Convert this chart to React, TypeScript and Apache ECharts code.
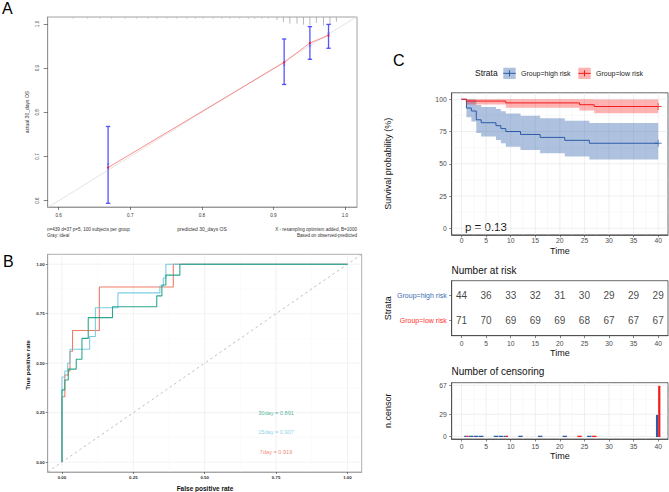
import React, { useEffect, useRef } from "react";
import * as echarts from "echarts";

const FONT = "'Liberation Sans', Arial, Helvetica, sans-serif";

// ---------- Panel A: calibration ----------
const calTicks = [0.6, 0.7, 0.8, 0.9, 1.0];
const calPredicted = [0.669, 0.915, 0.951, 0.977];
const calObserved = [0.675, 0.913, 0.957, 0.974];
const calCorrected = [0.683, 0.907, 0.951, 0.979];
const calLower = [0.594, 0.863, 0.92, 0.945];
const calUpper = [0.768, 0.966, 0.994, 0.999];
const idealLine = [0.5846, 1.0158];
const rugPredicted = [0.62, 0.64, 0.658, 0.674, 0.693, 0.709, 0.725, 0.737, 0.751, 0.765, 0.779, 0.791, 0.802, 0.816, 0.828, 0.839, 0.853, 0.865, 0.874, 0.884, 0.893, 0.905, 0.914, 0.923, 0.933, 0.942, 0.951, 0.96, 0.97, 0.979, 0.988];
const rugCounts = [1, 1, 1, 1, 1, 1, 1, 1, 1, 1, 1, 1, 1, 1, 1, 1, 1, 1, 1, 1, 1, 2, 4, 6, 6, 7, 8, 5, 8, 7, 4];

// ---------- Panel B: ROC ----------
const rocTicks = [0, 0.25, 0.5, 0.75, 1];
const rocMinor = [0.125, 0.375, 0.625, 0.875];
const fpr30 = [0, 0, 0.01, 0.022, 0.05, 0.07, 0.092, 0.177, 0.332, 0.35, 0.364, 0.413, 1];
const tpr30 = [0, 0.365, 0.415, 0.47, 0.52, 0.625, 0.73, 0.785, 0.84, 0.895, 0.945, 1, 1];
const fpr15 = [0, 0, 0.01, 0.02, 0.028, 0.097, 0.117, 0.196, 0.343, 0.355, 0.364, 1];
const tpr15 = [0, 0.43, 0.46, 0.5, 0.57, 0.635, 0.78, 0.855, 0.89, 0.93, 1, 1];
const fpr7 = [0, 0, 0.01, 0.022, 0.028, 0.037, 0.131, 0.39, 1];
const tpr7 = [0, 0.33, 0.44, 0.46, 0.56, 0.665, 0.885, 1, 1];
const aucLabels = ["30day = 0.891", "15day = 0.907", "7day = 0.919"];
const aucLabelX = [0.75, 0.75, 0.75];
const aucLabelY = [0.25, 0.15, 0.05];

// ---------- Panel C: Kaplan-Meier ----------
const timeBreaks = [0, 5, 10, 15, 20, 25, 30, 35, 40];
const timeMinor = [2.5, 7.5, 12.5, 17.5, 22.5, 27.5, 32.5, 37.5];
const survBreaks = [0, 25, 50, 75, 100];
const survMinor = [12.5, 37.5, 62.5, 87.5];
const kmTimesHigh = [0, 1, 2, 3, 4, 7, 8, 9, 12, 16, 21, 26, 40];
const kmSurvHigh = [100, 93.18, 90.91, 84.09, 81.82, 79.55, 77.27, 75.0, 72.73, 70.45, 68.18, 65.91, 65.91];
const kmLowerHigh = [100, 86.03, 82.8, 73.95, 71.18, 68.47, 65.83, 63.24, 60.69, 58.18, 55.72, 53.29, 53.29];
const kmUpperHigh = [100, 100, 99.81, 95.63, 94.05, 92.41, 90.7, 88.95, 87.16, 85.31, 83.43, 81.52, 81.52];
const kmTimesLow = [0, 1, 9, 24, 27, 40];
const kmSurvLow = [100, 98.59, 97.18, 95.77, 94.37, 94.37];
const kmLowerLow = [100, 95.89, 93.41, 91.21, 89.15, 89.15];
const kmUpperLow = [100, 100, 100, 100, 99.87, 99.87];
const censorMarkTime = 40;

// ---------- Risk table ----------
const riskTimes = [0, 5, 10, 15, 20, 25, 30, 35, 40];
const riskHigh = [44, 36, 33, 32, 31, 30, 29, 29, 29];
const riskLow = [71, 70, 69, 69, 69, 68, 67, 67, 67];
const strataNames = ["Group=high risk", "Group=low risk"];

// ---------- Censoring ----------
const censorHighTimes = [1, 2, 3, 4, 7, 8, 9, 12, 16, 21, 26, 40];
const censorHighCounts = [0, 0, 0, 0, 0, 0, 0, 0, 0, 0, 0, 29];
const censorLowTimes = [1, 9, 24, 27, 40];
const censorLowCounts = [0, 0, 0, 0, 67];
const censorBreaks = [0, 29, 67];
const censorMinor = [14.5, 48];

const BLUE = "#2B5CA8";
const RED = "#F21B1B";
const BLUE_BAND = "rgba(43,92,168,0.38)";
const RED_BAND = "rgba(255,0,0,0.3)";
const C30 = "#1FA287";
const C15 = "#6CC6DD";
const C7 = "#EE6D55";

function axis(gridIndex: number, min: number, max: number, ticks: number[], o: any) {
  return {
    type: "value",
    gridIndex,
    min,
    max,
    axisLine: { show: true, onZero: false, lineStyle: { color: o.lineColor || "#333", width: o.lineWidth || 0.8 } },
    axisTick: { show: true, customValues: ticks, length: o.tickLen || 2.5, lineStyle: { color: o.tickColor || "#333", width: 0.6 } },
    axisLabel: {
      show: true,
      customValues: ticks,
      formatter: o.fmt,
      fontSize: o.fontSize,
      color: o.labelColor || "#4D4D4D",
      fontFamily: FONT,
      fontWeight: o.bold ? "bold" : "normal",
      margin: o.margin,
      rotate: o.rotate || 0,
      rich: o.rich,
    },
    splitLine: { show: false },
  };
}

function gridLineSeries(idx: number, values: number[], dir: string, color: string, width: number) {
  return {
    type: "custom",
    xAxisIndex: idx,
    yAxisIndex: idx,
    silent: true,
    z: 1,
    data: values.map((v) => [v, v]),
    renderItem: (params: any, api: any) => {
      const cs = params.coordSys;
      const p = api.coord([api.value(0), api.value(1)]);
      const shape =
        dir === "v"
          ? { x1: p[0], y1: cs.y, x2: p[0], y2: cs.y + cs.height }
          : { x1: cs.x, y1: p[1], x2: cs.x + cs.width, y2: p[1] };
      return { type: "line", shape, style: { stroke: color, lineWidth: width } };
    },
  };
}

function bandSeries(idx: number, times: number[], lower: number[], upper: number[], color: string) {
  return {
    type: "custom",
    xAxisIndex: idx,
    yAxisIndex: idx,
    silent: true,
    z: 2,
    data: [[times[0], upper[0]]],
    renderItem: (params: any, api: any) => {
      const top: number[][] = [];
      const bot: number[][] = [];
      for (let i = 0; i < times.length - 1; i++) {
        top.push(api.coord([times[i], upper[i]]));
        top.push(api.coord([times[i + 1], upper[i]]));
        bot.push(api.coord([times[i], lower[i]]));
        bot.push(api.coord([times[i + 1], lower[i]]));
      }
      const points = top.concat(bot.reverse());
      return { type: "polygon", shape: { points }, style: { fill: color } };
    },
  };
}

function kmLine(idx: number, times: number[], surv: number[], color: string) {
  return {
    type: "line",
    xAxisIndex: idx,
    yAxisIndex: idx,
    step: "end",
    symbol: "none",
    z: 3,
    data: times.map((t, i) => [t, surv[i]]),
    lineStyle: { color, width: 1 },
  };
}

const PLUS = "path://M0,4.4L10,4.4L10,5.6L0,5.6Z M4.4,0L5.6,0L5.6,10L4.4,10Z";

function censorBars(idx: number) {
  const items: number[][] = [];
  censorHighTimes.forEach((t, i) => items.push([t, censorHighCounts[i], 0, censorLowTimes.indexOf(t) >= 0 ? 1 : 0]));
  censorLowTimes.forEach((t, i) => items.push([t, censorLowCounts[i], 1, censorHighTimes.indexOf(t) >= 0 ? 1 : 0]));
  return {
    type: "custom",
    xAxisIndex: idx,
    yAxisIndex: idx,
    silent: true,
    z: 3,
    data: items,
    renderItem: (params: any, api: any) => {
      const t = api.value(0);
      const n = api.value(1);
      const g = api.value(2);
      const dodge = api.value(3);
      let x0 = t - 0.45;
      let x1 = t + 0.45;
      if (dodge) {
        if (g === 0) x1 = t;
        else x0 = t;
      }
      const a = api.coord([x0, n]);
      const b = api.coord([x1, 0]);
      const h = Math.max(1.3, b[1] - a[1]);
      return {
        type: "rect",
        shape: { x: a[0], y: b[1] - h + 0.6, width: b[0] - a[0], height: h },
        style: { fill: g === 0 ? BLUE : RED },
      };
    },
  };
}

function txt(text: string, x: number, y: number, o: any = {}) {
  return {
    type: "text",
    x,
    y,
    rotation: o.rotation || 0,
    silent: true,
    style: {
      text,
      fill: o.fill || "#222",
      fontSize: o.fontSize || 8,
      fontFamily: FONT,
      fontWeight: o.bold ? "bold" : "normal",
      align: o.align || "left",
      verticalAlign: o.va || "middle",
    },
  };
}

function legendKey(x: number, y: number, band: string, color: string) {
  return {
    type: "group",
    silent: true,
    children: [
      { type: "rect", shape: { x, y, width: 12.4, height: 11.3 }, style: { fill: band } },
      { type: "line", shape: { x1: x, y1: y + 5.65, x2: x + 12.4, y2: y + 5.65 }, style: { stroke: color, lineWidth: 1 } },
      { type: "line", shape: { x1: x + 6.2, y1: y + 2.6, x2: x + 6.2, y2: y + 8.7 }, style: { stroke: color, lineWidth: 1 } },
    ],
  };
}

function buildOption(): any {
  const grids = [
    { left: 47.7, top: 17, width: 309.3, height: 190, borderColor: "#8a8a8a" },
    { left: 47.7, top: 254.3, width: 314, height: 217.7, borderColor: "#9a9a9a" },
    { left: 451.7, top: 92.8, width: 216.3, height: 142, borderColor: "#444" },
    { left: 451.7, top: 280.7, width: 216.3, height: 55, borderColor: "#444" },
    { left: 451.7, top: 382.7, width: 216.3, height: 56.3, borderColor: "#444" },
  ].map((g) => ({ ...g, show: true, borderWidth: 0.8, backgroundColor: "transparent", containLabel: false, outerBoundsMode: "none" }));

  const fmt1 = (v: number) => v.toFixed(1);
  const fmt2 = (v: number) => v.toFixed(2);
  const fmt0 = (v: number) => String(v);

  const xAxis = [
    axis(0, 0.5846, 1.0168, calTicks, { fmt: fmt1, fontSize: 4.6, margin: 6, tickLen: 3, labelColor: "#333", lineColor: "#8a8a8a" }),
    axis(1, -0.05, 1.05, rocTicks, { fmt: fmt2, fontSize: 4.4, bold: true, margin: 3, tickLen: 2, labelColor: "#333", lineColor: "#9a9a9a" }),
    axis(2, -2, 42, timeBreaks, { fmt: fmt0, fontSize: 6.8, margin: 2.5, tickLen: 2.5, lineColor: "#444" }),
    axis(3, -2, 42, timeBreaks, { fmt: fmt0, fontSize: 6.8, margin: 4.5, tickLen: 2.5, lineColor: "#444" }),
    axis(4, -2, 42, timeBreaks, { fmt: fmt0, fontSize: 6.8, margin: 3.5, tickLen: 2.5, lineColor: "#444" }),
  ];
  const yAxis = [
    axis(0, 0.5857, 1.0158, calTicks, { fmt: fmt1, fontSize: 4.6, margin: 8, tickLen: 4, rotate: 90, labelColor: "#333", lineColor: "#8a8a8a" }),
    axis(1, -0.05, 1.05, rocTicks, { fmt: fmt2, fontSize: 4.4, bold: true, margin: 3, tickLen: 2, labelColor: "#333", lineColor: "#9a9a9a" }),
    axis(2, -5, 105, survBreaks, { fmt: fmt0, fontSize: 6.8, margin: 5, tickLen: 2.5, lineColor: "#444" }),
    axis(3, 0.4, 2.6, [1, 2], {
      fmt: (v: number) => (v === 2 ? "{h|" + strataNames[0] + "}" : "{l|" + strataNames[1] + "}"),
      fontSize: 7,
      margin: 5,
      tickLen: 2.5,
      lineColor: "#444",
      rich: {
        h: { color: "#3A6CB4", fontSize: 7, fontFamily: FONT },
        l: { color: "#FF3030", fontSize: 7, fontFamily: FONT },
      },
    }),
    axis(4, -3.35, 70.35, censorBreaks, { fmt: fmt0, fontSize: 6.8, margin: 5, tickLen: 2.5, lineColor: "#444" }),
  ];

  const series: any[] = [
    // Panel A
    {
      type: "line",
      xAxisIndex: 0,
      yAxisIndex: 0,
      symbol: "none",
      data: [[idealLine[0], idealLine[0]], [idealLine[1], idealLine[1]]],
      lineStyle: { color: "#DCDCDC", width: 0.8 },
      z: 2,
    },
    {
      type: "custom",
      xAxisIndex: 0,
      yAxisIndex: 0,
      silent: true,
      z: 2,
      data: rugPredicted.map((p, i) => [p, rugCounts[i]]),
      renderItem: (params: any, api: any) => {
        const cs = params.coordSys;
        const x = api.coord([api.value(0), 1])[0];
        const n = api.value(1);
        return {
          type: "line",
          shape: { x1: x, y1: cs.y, x2: x, y2: cs.y + 1 + n * 0.95 },
          style: { stroke: n > 1 ? "#9a9a9a" : "#bdbdbd", lineWidth: 0.7 },
        };
      },
    },
    {
      type: "custom",
      xAxisIndex: 0,
      yAxisIndex: 0,
      silent: true,
      z: 3,
      data: calPredicted.map((p, i) => [p, calLower[i], calUpper[i]]),
      renderItem: (params: any, api: any) => {
        const lo = api.coord([api.value(0), api.value(1)]);
        const hi = api.coord([api.value(0), api.value(2)]);
        const st = { stroke: "rgba(55,55,255,0.85)", lineWidth: 1.3 };
        return {
          type: "group",
          children: [
            { type: "line", shape: { x1: lo[0], y1: lo[1], x2: hi[0], y2: hi[1] }, style: st },
            { type: "line", shape: { x1: lo[0] - 2.2, y1: lo[1], x2: lo[0] + 2.2, y2: lo[1] }, style: st },
            { type: "line", shape: { x1: hi[0] - 2.2, y1: hi[1], x2: hi[0] + 2.2, y2: hi[1] }, style: st },
          ],
        };
      },
    },
    {
      type: "line",
      xAxisIndex: 0,
      yAxisIndex: 0,
      symbol: "none",
      z: 4,
      data: calPredicted.map((p, i) => [p, calObserved[i]]),
      lineStyle: { color: "#FF6F6F", width: 0.8 },
    },
    {
      type: "scatter",
      xAxisIndex: 0,
      yAxisIndex: 0,
      symbol: "rect",
      symbolSize: 2,
      z: 5,
      data: calPredicted.map((p, i) => [p, calCorrected[i]]),
      itemStyle: { color: "rgba(90,90,255,0.75)" },
    },
    {
      type: "scatter",
      xAxisIndex: 0,
      yAxisIndex: 0,
      symbolSize: 2.4,
      z: 6,
      data: calPredicted.map((p, i) => [p, calObserved[i]]),
      itemStyle: { color: "#E0103A" },
    },

    // Panel B
    gridLineSeries(1, rocMinor, "v", "#F4F4F4", 0.4),
    gridLineSeries(1, rocMinor, "h", "#F4F4F4", 0.4),
    gridLineSeries(1, rocTicks, "v", "#EAEAEA", 0.6),
    gridLineSeries(1, rocTicks, "h", "#EAEAEA", 0.6),
    {
      type: "line",
      xAxisIndex: 1,
      yAxisIndex: 1,
      symbol: "none",
      z: 2,
      data: [[-0.05, -0.05], [1.05, 1.05]],
      lineStyle: { color: "#AFAFAF", width: 0.8, type: [2.5, 3] },
    },
    {
      type: "line", xAxisIndex: 1, yAxisIndex: 1, step: "end", symbol: "none", z: 3,
      data: fpr7.map((x, i) => [x, tpr7[i]]), lineStyle: { color: C7, width: 1.1, opacity: 0.9 },
    },
    {
      type: "line", xAxisIndex: 1, yAxisIndex: 1, step: "end", symbol: "none", z: 3,
      data: fpr15.map((x, i) => [x, tpr15[i]]), lineStyle: { color: C15, width: 1.1, opacity: 0.9 },
    },
    {
      type: "line", xAxisIndex: 1, yAxisIndex: 1, step: "end", symbol: "none", z: 3,
      data: fpr30.map((x, i) => [x, tpr30[i]]), lineStyle: { color: C30, width: 1.1, opacity: 0.95 },
    },
    {
      type: "scatter",
      xAxisIndex: 1,
      yAxisIndex: 1,
      symbolSize: 0,
      z: 4,
      data: aucLabels.map((s, i) => ({
        value: [aucLabelX[i], aucLabelY[i]],
        label: { color: [C30, C15, C7][i] },
      })),
      label: {
        show: true,
        position: "inside",
        fontSize: 5.6,
        fontFamily: FONT,
        formatter: (p: any) => aucLabels[p.dataIndex],
      },
    },

    // Panel C: KM
    gridLineSeries(2, timeMinor, "v", "#F2F2F2", 0.45),
    gridLineSeries(2, survMinor, "h", "#F2F2F2", 0.45),
    gridLineSeries(2, timeBreaks, "v", "#E6E6E6", 0.65),
    gridLineSeries(2, survBreaks, "h", "#E6E6E6", 0.65),
    bandSeries(2, kmTimesHigh, kmLowerHigh, kmUpperHigh, BLUE_BAND),
    bandSeries(2, kmTimesLow, kmLowerLow, kmUpperLow, RED_BAND),
    kmLine(2, kmTimesHigh, kmSurvHigh, BLUE),
    kmLine(2, kmTimesLow, kmSurvLow, RED),
    {
      type: "scatter",
      xAxisIndex: 2,
      yAxisIndex: 2,
      symbol: PLUS,
      symbolSize: 7,
      z: 5,
      data: [
        { value: [censorMarkTime, kmSurvHigh[kmSurvHigh.length - 1]], itemStyle: { color: BLUE } },
        { value: [censorMarkTime, kmSurvLow[kmSurvLow.length - 1]], itemStyle: { color: RED } },
      ],
    },

    // Risk table
    {
      type: "scatter",
      xAxisIndex: 3,
      yAxisIndex: 3,
      symbolSize: 0,
      z: 4,
      data: riskTimes.map((t, i) => [t, 2, riskHigh[i]]).concat(riskTimes.map((t, i) => [t, 1, riskLow[i]])),
      label: {
        show: true,
        position: "inside",
        fontSize: 10,
        color: "#111",
        fontFamily: FONT,
        formatter: (p: any) => String(p.value[2]),
      },
    },

    // Censoring
    gridLineSeries(4, timeMinor, "v", "#F2F2F2", 0.45),
    gridLineSeries(4, censorMinor, "h", "#F2F2F2", 0.45),
    gridLineSeries(4, timeBreaks, "v", "#E6E6E6", 0.65),
    gridLineSeries(4, censorBreaks, "h", "#E6E6E6", 0.65),
    censorBars(4),
  ];

  const graphic: any[] = [
    txt("A", 2, 8.6, { fontSize: 16, fill: "#000" }),
    txt("B", 3, 261, { fontSize: 16, fill: "#000" }),
    txt("C", 393, 60.3, { fontSize: 16, fill: "#000" }),
    // Panel A texts
    txt("actual 30_days OS", 27, 112, { fontSize: 5, align: "center", rotation: Math.PI / 2, fill: "#333" }),
    txt("predicted 30_days OS", 202, 229, { fontSize: 5, align: "center", fill: "#333" }),
    txt("n=439 d=37 p=5, 100 subjects per group", 47, 229, { fontSize: 4.6, fill: "#333" }),
    txt("Gray: ideal", 47, 235, { fontSize: 4.6, fill: "#333" }),
    txt("X - resampling optimism added, B=1000", 357, 229, { fontSize: 4.6, align: "right", fill: "#333" }),
    txt("Based on observed-predicted", 357, 235, { fontSize: 4.6, align: "right", fill: "#333" }),
    // Panel B texts
    txt("True positive rate", 27.5, 365, { fontSize: 6, bold: true, align: "center", rotation: Math.PI / 2, fill: "#111" }),
    txt("False positive rate", 205, 488, { fontSize: 6.5, bold: true, align: "center", fill: "#111" }),
    // Panel C texts
    txt("Strata", 475, 73, { fontSize: 8.5, fill: "#111" }),
    legendKey(503.3, 67.7, BLUE_BAND, BLUE),
    txt("Group=high risk", 521, 73.3, { fontSize: 7, fill: "#222" }),
    legendKey(578.3, 67.7, RED_BAND, RED),
    txt("Group=low risk", 596, 73.3, { fontSize: 7, fill: "#222" }),
    txt("Survival probability (%)", 388, 163.8, { fontSize: 9, align: "center", rotation: Math.PI / 2, fill: "#111" }),
    txt("Time", 559.8, 251, { fontSize: 9, align: "center", fill: "#111" }),
    txt("p = 0.13", 465, 227.3, { fontSize: 11.5, fill: "#111" }),
    txt("Number at risk", 451.5, 270, { fontSize: 10, fill: "#111" }),
    txt("Strata", 388, 308.2, { fontSize: 9, align: "center", rotation: Math.PI / 2, fill: "#111" }),
    txt("Time", 559.8, 353.3, { fontSize: 9, align: "center", fill: "#111" }),
    txt("Number of censoring", 451.5, 371.7, { fontSize: 10, fill: "#111" }),
    txt("n.censor", 388, 410.8, { fontSize: 9, align: "center", rotation: Math.PI / 2, fill: "#111" }),
    txt("Time", 559.8, 455.7, { fontSize: 9, align: "center", fill: "#111" }),
  ];

  return {
    animation: false,
    backgroundColor: "#fff",
    textStyle: { fontFamily: FONT },
    grid: grids,
    xAxis,
    yAxis,
    series,
    graphic,
  };
}

export default function App() {
  const ref = useRef<HTMLDivElement>(null);
  useEffect(() => {
    const chart = echarts.init(ref.current as HTMLDivElement, undefined, { renderer: "svg" });
    chart.setOption(buildOption());
    return () => chart.dispose();
  }, []);
  return (
    <div
      ref={ref}
      style={{ position: "fixed", left: 0, top: 0, width: 669, height: 492, background: "#fff" }}
    />
  );
}
